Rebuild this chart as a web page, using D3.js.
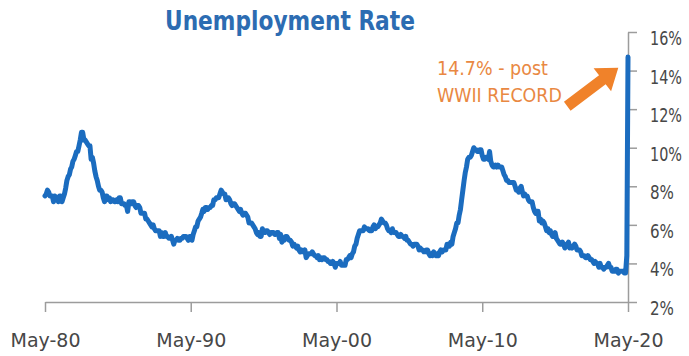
<!DOCTYPE html>
<html>
<head>
<meta charset="utf-8">
<script src="https://cdn.jsdelivr.net/npm/d3@7"></script>
<style>
  html, body { margin: 0; padding: 0; background: #ffffff; }
  svg { display: block; }
</style>
</head>
<body>
<svg id="chart" width="689" height="356"></svg>
<script>
// ---- DATA (monthly U.S. unemployment rate, %, starting May 1980) ----
const seriesStart = "1980-05";
const rates1980s = [
  7.5, 7.6, 7.8, 7.7, 7.5, 7.5, 7.5, 7.2,
  7.5, 7.4, 7.4, 7.2, 7.5, 7.5, 7.2, 7.4, 7.6, 7.9, 8.3, 8.5,
  8.6, 8.9, 9.0, 9.3, 9.4, 9.6, 9.8, 9.8, 10.1, 10.4, 10.8, 10.8,
  10.4, 10.4, 10.3, 10.2, 10.1, 10.1, 9.4, 9.5, 9.2, 8.8, 8.5, 8.3,
  8.0, 7.8, 7.8, 7.7, 7.4, 7.2, 7.5, 7.5, 7.3, 7.4, 7.2, 7.3,
  7.3, 7.2, 7.2, 7.3, 7.2, 7.4, 7.4, 7.1, 7.1, 7.1, 7.0, 7.0,
  6.7, 7.2, 7.2, 7.1, 7.2, 7.2, 7.0, 6.9, 7.0, 7.0, 6.9, 6.6,
  6.6, 6.6, 6.6, 6.3, 6.3, 6.2, 6.1, 6.0, 5.9, 6.0, 5.8, 5.7,
  5.7, 5.7, 5.7, 5.4, 5.6, 5.4, 5.4, 5.6, 5.4, 5.4, 5.3, 5.3,
  5.4, 5.2, 5.0, 5.2, 5.2, 5.3, 5.2, 5.2, 5.3, 5.3, 5.4, 5.4
];
const rates1990s = [
  5.4, 5.3, 5.2, 5.4, 5.4, 5.2, 5.5, 5.7, 5.9, 5.9, 6.2, 6.3,
  6.4, 6.6, 6.8, 6.7, 6.9, 6.9, 6.8, 6.9, 6.9, 7.0, 7.0, 7.3,
  7.3, 7.4, 7.4, 7.4, 7.6, 7.8, 7.7, 7.6, 7.6, 7.3, 7.4, 7.4,
  7.3, 7.1, 7.0, 7.1, 7.1, 7.0, 6.9, 6.8, 6.7, 6.8, 6.6, 6.5,
  6.6, 6.6, 6.5, 6.4, 6.1, 6.1, 6.1, 6.0, 5.9, 5.8, 5.6, 5.5,
  5.6, 5.4, 5.4, 5.8, 5.6, 5.6, 5.7, 5.7, 5.6, 5.5, 5.6, 5.6,
  5.6, 5.5, 5.5, 5.6, 5.6, 5.3, 5.5, 5.1, 5.2, 5.2, 5.4, 5.4,
  5.3, 5.2, 5.2, 5.1, 4.9, 5.0, 4.9, 4.8, 4.9, 4.7, 4.6, 4.7,
  4.6, 4.6, 4.7, 4.3, 4.4, 4.5, 4.5, 4.5, 4.6, 4.5, 4.4, 4.4,
  4.3, 4.4, 4.2, 4.3, 4.2, 4.3, 4.3, 4.2, 4.2, 4.1, 4.1, 4.0
];
const rates2000s = [
  4.0, 4.1, 4.0, 3.8, 4.0, 4.0, 4.0, 4.1, 3.9, 3.9, 3.9, 3.9,
  4.2, 4.2, 4.3, 4.4, 4.3, 4.5, 4.6, 4.9, 5.0, 5.3, 5.5, 5.7,
  5.7, 5.7, 5.7, 5.9, 5.8, 5.8, 5.8, 5.7, 5.7, 5.7, 5.9, 6.0,
  5.8, 5.9, 5.9, 6.0, 6.1, 6.3, 6.2, 6.1, 6.1, 6.0, 5.8, 5.7,
  5.7, 5.6, 5.8, 5.6, 5.6, 5.6, 5.5, 5.4, 5.4, 5.5, 5.4, 5.4,
  5.3, 5.4, 5.2, 5.2, 5.1, 5.0, 5.0, 4.9, 5.0, 5.0, 5.0, 4.9,
  4.7, 4.8, 4.7, 4.7, 4.6, 4.6, 4.7, 4.7, 4.5, 4.4, 4.5, 4.4,
  4.6, 4.5, 4.4, 4.5, 4.4, 4.6, 4.7, 4.6, 4.7, 4.7, 4.7, 5.0,
  5.0, 4.9, 5.1, 5.0, 5.4, 5.6, 5.8, 6.1, 6.1, 6.5, 6.8, 7.3,
  7.8, 8.3, 8.7, 9.0, 9.4, 9.5, 9.5, 9.6, 9.8, 10.0, 9.9, 9.9
];
const rates2010s = [
  9.8, 9.8, 9.9, 9.9, 9.6, 9.4, 9.4, 9.5, 9.5, 9.4, 9.8, 9.3,
  9.1, 9.0, 9.0, 9.1, 9.0, 9.1, 9.0, 9.0, 9.0, 8.8, 8.6, 8.5,
  8.3, 8.3, 8.2, 8.2, 8.2, 8.2, 8.2, 8.0, 7.8, 7.8, 7.7, 7.9,
  8.0, 7.7, 7.5, 7.6, 7.5, 7.5, 7.3, 7.2, 7.2, 7.2, 6.9, 6.7,
  6.6, 6.7, 6.7, 6.2, 6.3, 6.1, 6.2, 6.1, 5.9, 5.7, 5.8, 5.6,
  5.7, 5.5, 5.4, 5.4, 5.6, 5.3, 5.2, 5.1, 5.0, 5.0, 5.1, 5.0,
  4.8, 4.9, 5.0, 5.1, 4.8, 4.9, 4.8, 4.9, 5.0, 4.9, 4.7, 4.7,
  4.7, 4.6, 4.4, 4.4, 4.4, 4.3, 4.3, 4.4, 4.3, 4.2, 4.2, 4.1,
  4.0, 4.1, 4.0, 4.0, 3.8, 4.0, 3.8, 3.8, 3.7, 3.8, 3.8, 3.9,
  4.0, 3.8, 3.8, 3.6, 3.6, 3.6, 3.7, 3.7, 3.5, 3.6, 3.6, 3.6
];
const rates2020 = [3.6, 3.5, 3.5, 4.4, 14.7];

const xTickDates  = ["1980-05", "1990-05", "2000-05", "2010-05", "2020-05"];
const xTickLabels = ["May-80", "May-90", "May-00", "May-10", "May-20"];
const yTicks      = [2, 4, 6, 8, 10, 12, 14, 16];
const yTickLabels = ["2%", "4%", "6%", "8%", "10%", "12%", "14%", "16%"];

const titleText = "Unemployment Rate";
const noteLines = ["14.7% - post", "WWII RECORD"];
const arrowFrom = { date: "2016-03", value: 12.15 };
const arrowTo   = { date: "2019-09", value: 14.15 };

// ---- CHART ----
const parseMonth = d3.timeParse("%Y-%m");
const start = parseMonth(seriesStart);
const rates = [].concat(rates1980s, rates1990s, rates2000s, rates2010s, rates2020);
const data = rates.map((v, i) => ({ date: d3.timeMonth.offset(start, i), value: v }));

const svg = d3.select("#chart");
const FONT = "'DejaVu Sans', Verdana, sans-serif";
const AXIS_COLOR = "#9c9c9c";
const TEXT_COLOR = "#474747";

const x = d3.scaleTime()
  .domain([parseMonth(xTickDates[0]), parseMonth(xTickDates[xTickDates.length - 1])])
  .range([45, 628]);
const y = d3.scaleLinear().domain([2, 16]).range([302, 32]);

// squeeze a text horizontally to a target width (real scaling, so its box shrinks too)
function fit(sel, w) {
  sel.each(function () {
    const node = this;
    const n = node.getComputedTextLength();
    const s = n > 0 ? w / n : 1;
    const x0 = +node.getAttribute("x") || 0;
    const y0 = +node.getAttribute("y") || 0;
    d3.select(node)
      .attr("x", 0).attr("y", 0)
      .attr("transform", `translate(${x0},${y0}) scale(${s},1)`);
  });
}

// X axis
const xAxis = d3.axisBottom(x)
  .tickValues(xTickDates.map(parseMonth))
  .tickFormat((d, i) => xTickLabels[i])
  .tickSize(10).tickSizeOuter(0);
const gx = svg.append("g").attr("transform", `translate(0,${y(2)})`).call(xAxis);
gx.select(".domain").attr("stroke", AXIS_COLOR).attr("stroke-width", 1.5);
gx.selectAll(".tick line").attr("stroke", AXIS_COLOR).attr("stroke-width", 1.5);
gx.selectAll(".tick text")
  .attr("y", 45).attr("dy", 0)
  .attr("fill", TEXT_COLOR)
  .style("font-family", FONT).style("font-size", "20px")
  .call(fit, 70);

// Y axis (right side)
const yAxis = d3.axisRight(y)
  .tickValues(yTicks)
  .tickFormat((d, i) => yTickLabels[i])
  .tickSize(9).tickSizeOuter(0);
const gy = svg.append("g").attr("transform", `translate(${x.range()[1]},0)`).call(yAxis);
gy.select(".domain").attr("stroke", AXIS_COLOR).attr("stroke-width", 1.5);
gy.selectAll(".tick line").attr("stroke", AXIS_COLOR).attr("stroke-width", 1.5);
gy.selectAll(".tick text")
  .attr("x", 22).attr("y", 12.5).attr("dy", 0)
  .attr("fill", TEXT_COLOR)
  .style("font-family", FONT).style("font-size", "20px")
  .each(function (d, i) { d3.select(this).call(fit, yTickLabels[i].length > 2 ? 32 : 24); });

// Line
const line = d3.line().x(d => x(d.date)).y(d => y(d.value));
svg.append("path")
  .datum(data)
  .attr("d", line)
  .attr("fill", "none")
  .attr("stroke", "#1b6cbf")
  .attr("stroke-width", 5)
  .attr("stroke-linejoin", "round")
  .attr("stroke-linecap", "round");

// Title
svg.append("text")
  .attr("x", 165).attr("y", 30)
  .attr("fill", "#2c6cb2")
  .style("font-family", FONT).style("font-size", "27px").style("font-weight", "bold")
  .text(titleText)
  .call(fit, 250);

// Annotation text
const noteWidths = [111, 125];
noteLines.forEach((t, i) => {
  svg.append("text")
    .attr("x", 437).attr("y", 75 + i * 27)
    .attr("fill", "#e98842")
    .style("font-family", FONT).style("font-size", "20px")
    .text(t)
    .call(fit, noteWidths[i]);
});

// Annotation arrow (block arrow)
(function () {
  const tx = x(parseMonth(arrowFrom.date)), ty = y(arrowFrom.value);
  const hx = x(parseMonth(arrowTo.date)),   hy = y(arrowTo.value);
  const dx = hx - tx, dy = hy - ty, len = Math.hypot(dx, dy);
  const ux = dx / len, uy = dy / len, nx = -uy, ny = ux;
  const shaft = 5.5, head = 14.5, headLen = 20;
  const bx = hx - ux * headLen, by = hy - uy * headLen;
  const pts = [
    [tx + nx * shaft, ty + ny * shaft],
    [bx + nx * shaft, by + ny * shaft],
    [bx + nx * head,  by + ny * head],
    [hx, hy],
    [bx - nx * head,  by - ny * head],
    [bx - nx * shaft, by - ny * shaft],
    [tx - nx * shaft, ty - ny * shaft]
  ];
  svg.append("polygon")
    .attr("points", pts.map(p => p.join(",")).join(" "))
    .attr("fill", "#f0822a");
})();
</script>
</body>
</html>
